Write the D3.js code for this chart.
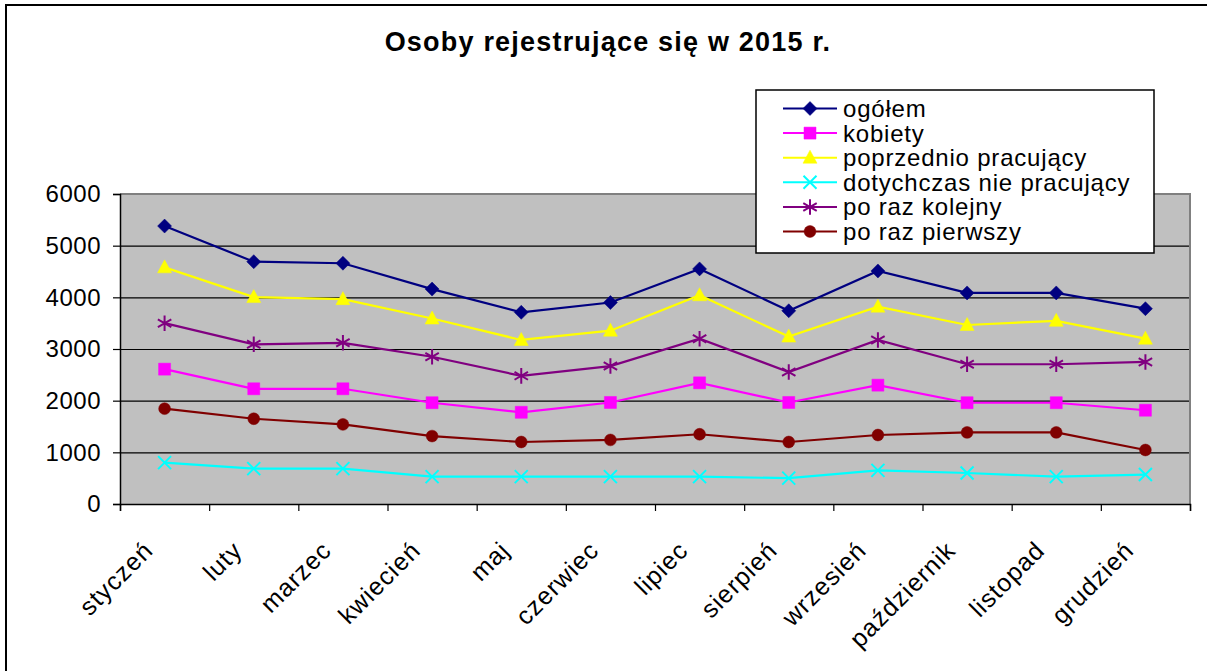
<!DOCTYPE html>
<html>
<head>
<meta charset="utf-8">
<script src="https://cdn.jsdelivr.net/npm/d3@7"></script>
<style>
  html, body { margin: 0; padding: 0; background: #fff; }
  svg { display: block; }
</style>
</head>
<body>
<div id="chart"></div>
<script>
// Osoby rejestrujące się w 2015 r. — line chart, Excel-2003 look

const FONT = "'Liberation Sans', Arial, sans-serif";

const TITLE = 'Osoby rejestrujące się w 2015 r.';

const months = ['styczeń', 'luty', 'marzec', 'kwiecień', 'maj', 'czerwiec',
  'lipiec', 'sierpień', 'wrzesień', 'październik', 'listopad', 'grudzień'];

const yTicks = [0, 1000, 2000, 3000, 4000, 5000, 6000];

const ogolem        = [5380, 4690, 4660, 4160, 3710, 3900, 4550, 3740, 4510, 4085, 4085, 3780];
const kobiety       = [2610, 2230, 2230, 1960, 1775, 1965, 2345, 1965, 2300, 1960, 1960, 1815];
const poprzednio    = [4580, 4005, 3965, 3590, 3175, 3355, 4040, 3240, 3820, 3465, 3545, 3200];
const dotychczas    = [800, 685, 685, 530, 530, 530, 530, 500, 650, 600, 530, 570];
const poRazKolejny  = [3500, 3090, 3120, 2850, 2480, 2670, 3200, 2555, 3175, 2705, 2705, 2750];
const poRazPierwszy = [1845, 1650, 1540, 1315, 1200, 1240, 1350, 1200, 1335, 1385, 1385, 1045];

const SERIES = [
  { label: 'ogółem',                   values: ogolem,        color: '#000080', marker: 'diamond'  },
  { label: 'kobiety',                  values: kobiety,       color: '#FF00FF', marker: 'square'   },
  { label: 'poprzednio pracujący',     values: poprzednio,    color: '#FFFF00', marker: 'triangle' },
  { label: 'dotychczas nie pracujący', values: dotychczas,    color: '#00FFFF', marker: 'times'    },
  { label: 'po raz kolejny',           values: poRazKolejny,  color: '#800080', marker: 'asterisk' },
  { label: 'po raz pierwszy',          values: poRazPierwszy, color: '#800000', marker: 'circle'   },
];

const W = 1207, H = 671;
const plot = { left: 120, right: 1190, top: 194, bottom: 504 };

const svg = d3.select('#chart').append('svg')
  .attr('width', W).attr('height', H)
  .attr('viewBox', `0 0 ${W} ${H}`);

// outer chart frame (runs off the right/bottom edge like the original)
svg.append('rect')
  .attr('x', 6).attr('y', 5)
  .attr('width', 1300).attr('height', 800)
  .attr('fill', '#fff')
  .attr('stroke', '#000').attr('stroke-width', 2);

// title
svg.append('text')
  .attr('x', 608).attr('y', 51)
  .attr('text-anchor', 'middle')
  .style('font-family', FONT)
  .style('font-size', '27px')
  .style('font-weight', 'bold')
  .style('letter-spacing', '1.2px')
  .text(TITLE);

// scales
const x = d3.scaleBand().domain(months).range([plot.left, plot.right]).padding(0);
const xEdge = d3.scaleLinear().domain([0, months.length]).range([plot.left, plot.right]);
const y = d3.scaleLinear().domain([0, 6000]).range([plot.bottom, plot.top]);
const cx = m => x(m) + x.bandwidth() / 2;

// plot area
svg.append('rect')
  .attr('x', plot.left).attr('y', plot.top)
  .attr('width', plot.right - plot.left).attr('height', plot.bottom - plot.top)
  .attr('fill', '#C0C0C0');

// gridlines
svg.append('g')
  .attr('transform', `translate(${plot.left},0)`)
  .call(d3.axisLeft(y).tickValues(yTicks.filter(v => v > 0 && v < 6000))
    .tickSize(-(plot.right - plot.left)).tickFormat(''))
  .call(g => g.select('.domain').remove())
  .call(g => g.selectAll('line').attr('stroke', '#000').attr('stroke-width', 1.2));

// grey border on top/right
svg.append('path')
  .attr('d', `M${plot.left},${plot.top}H${plot.right}V${plot.bottom}`)
  .attr('fill', 'none')
  .attr('stroke', '#808080').attr('stroke-width', 2);

// y axis
const yAxis = svg.append('g')
  .attr('transform', `translate(${plot.left},0)`)
  .call(d3.axisLeft(y).tickValues(yTicks).tickSize(7).tickPadding(12).tickFormat(d3.format('d')));
yAxis.select('.domain').attr('stroke', '#000').attr('stroke-width', 1.5);
yAxis.selectAll('line').attr('stroke', '#000').attr('stroke-width', 1.2);
yAxis.selectAll('text')
  .style('font-family', FONT).style('font-size', '24px')
  .style('letter-spacing', '0.5px').attr('fill', '#000');

// x axis (ticks on category boundaries)
const xAxis = svg.append('g')
  .attr('transform', `translate(0,${plot.bottom})`)
  .call(d3.axisBottom(xEdge).ticks(months.length).tickSize(7).tickFormat(''));
xAxis.select('.domain').attr('stroke', '#000').attr('stroke-width', 1.5);
xAxis.selectAll('line').attr('stroke', '#000').attr('stroke-width', 1.2);

svg.append('g').selectAll('text')
  .data(months)
  .join('text')
  .attr('transform', d => `translate(${cx(d) - 10},${552}) rotate(-45)`)
  .attr('text-anchor', 'end')
  .style('font-family', FONT)
  .style('font-size', '25px')
  .style('letter-spacing', '1px')
  .text(d => d);

// markers
function markerPath(type) {
  switch (type) {
    case 'diamond':  return 'M0,-7L7,0L0,7L-7,0Z';
    case 'square':   return 'M-6,-6H6V6H-6Z';
    case 'triangle': return 'M0,-7.5L7,5.5L-7,5.5Z';
    case 'times':    return 'M-6.5,-6.5L6.5,6.5M-6.5,6.5L6.5,-6.5';
    case 'asterisk': return d3.symbol(d3.symbolAsterisk, 170)();
    case 'circle':   return d3.symbol(d3.symbolCircle, 110)();
  }
}
const strokeOnly = t => t === 'times' || t === 'asterisk';

function drawMarker(sel, s) {
  sel.attr('d', markerPath(s.marker))
    .attr('fill', strokeOnly(s.marker) ? 'none' : s.color)
    .attr('stroke', s.color)
    .attr('stroke-width', strokeOnly(s.marker) ? 2 : 0.5);
}

const line = d3.line().x((d, i) => cx(months[i])).y(d => y(d));

SERIES.forEach(s => {
  const g = svg.append('g');
  g.append('path')
    .datum(s.values)
    .attr('fill', 'none')
    .attr('stroke', s.color)
    .attr('stroke-width', 2.2)
    .attr('d', line);
  g.selectAll('path.mk')
    .data(s.values)
    .join('path')
    .attr('class', 'mk')
    .attr('transform', (d, i) => `translate(${cx(months[i])},${y(d)})`)
    .call(drawMarker, s);
});

// legend
const legend = svg.append('g');
legend.append('rect')
  .attr('x', 756).attr('y', 90)
  .attr('width', 398).attr('height', 163)
  .attr('fill', '#fff')
  .attr('stroke', '#000').attr('stroke-width', 1.5);

SERIES.forEach((s, i) => {
  const ly = 108.5 + i * 24.6;
  const row = legend.append('g').attr('transform', `translate(0,${ly})`);
  row.append('line')
    .attr('x1', 783).attr('x2', 837)
    .attr('stroke', s.color).attr('stroke-width', 2);
  row.append('path')
    .attr('transform', 'translate(810,0)')
    .call(drawMarker, s);
  row.append('text')
    .attr('x', 843).attr('y', 8.5)
    .style('font-family', FONT)
    .style('font-size', '24px')
    .style('letter-spacing', '0.8px')
    .text(s.label);
});
</script>
</body>
</html>
